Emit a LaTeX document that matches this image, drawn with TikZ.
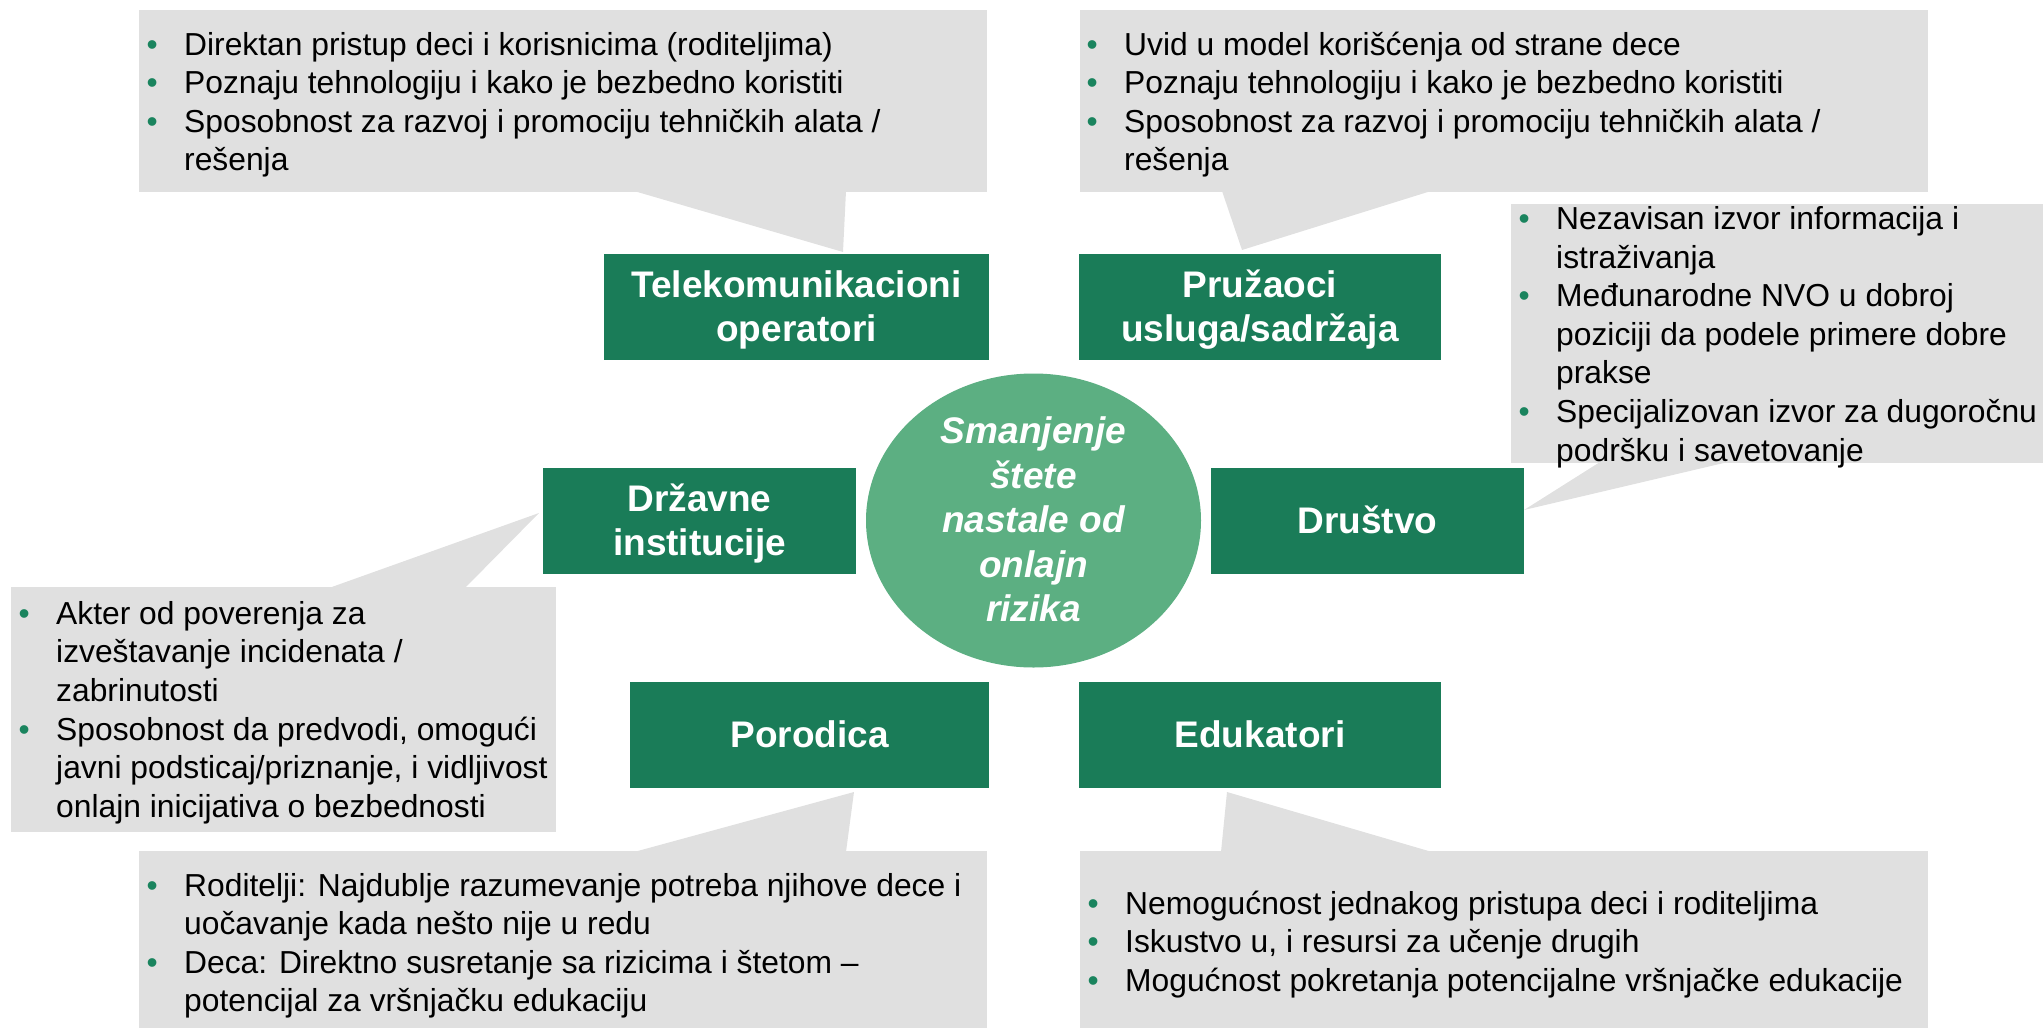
\documentclass[tikz,border=0pt]{standalone}
\usepackage{fontspec}
\setmainfont{Liberation Sans}
\usetikzlibrary{shapes.geometric,calc}
\definecolor{dkgreen}{RGB}{26,124,88}
\definecolor{ltgreen}{RGB}{92,175,130}
\definecolor{callgray}{RGB}{224,224,224}
\definecolor{bulgreen}{RGB}{26,132,94}
\newcommand{\bul}{\leavevmode\llap{\makebox[0pt][c]{\textcolor{bulgreen}{•}}\hspace{32pt}}}
\begin{document}
\begin{tikzpicture}[x=1pt,y=-1pt,
  callout/.style={fill=callgray},
  gbox/.style={rectangle, fill=dkgreen, inner sep=0pt, minimum height=106pt},
  gtext/.style={anchor=base, inner sep=0pt, text=white, font=\fontsize{37}{44.5}\selectfont\bfseries},
  ctext/.style={anchor=base west, inner sep=0pt, font=\fontsize{31.8}{38.6}\selectfont}]
\useasboundingbox (0,0) rectangle (2043,1028);

% callout shapes
\fill[callout] (139,10) rectangle (987,192);
\fill[callout] (634,191) -- (843,252) -- (846,191) -- cycle;
\fill[callout] (1080,10) rectangle (1928,192);
\fill[callout] (1222,191) -- (1242,250) -- (1431,191) -- cycle;
\fill[callout] (1511,204) rectangle (2043,463);
\fill[callout] (1600,462) -- (1524,510) -- (1728,462) -- cycle;
\fill[callout] (11,587) rectangle (556,832);
\fill[callout] (329,588) -- (539,513) -- (465,588) -- cycle;
\fill[callout] (139,851) rectangle (987,1028);
\fill[callout] (634,852) -- (854,792) -- (846,852) -- cycle;
\fill[callout] (1080,851) rectangle (1928,1028);
\fill[callout] (1221,852) -- (1227,792) -- (1432,852) -- cycle;

% green boxes
\node[gbox, minimum width=385pt] (tel) at (796.5,307) {};
\node[gbox, minimum width=362pt] (pru) at (1260,307) {};
\node[gbox, minimum width=313pt] (drz) at (699.5,521) {};
\node[gbox, minimum width=313pt] (dru) at (1367.5,521) {};
\node[gbox, minimum width=359pt] (por) at (809.5,735) {};
\node[gbox, minimum width=362pt] (edu) at (1260,735) {};
\node[ellipse, fill=ltgreen, inner sep=0pt, minimum width=335pt, minimum height=294pt] (goal) at (1033.5,520.5) {};

% box texts
\node[gtext] (tel-t) at ($(tel.center)+(0,-10)$) {\parbox[t]{420pt}{\centering Telekomunikacioni\\operatori}};
\node[gtext] (pru-t) at ($(pru.center)+(0,-10)$) {\parbox[t]{420pt}{\centering Pružaoci\\usluga/sadržaja}};
\node[gtext] (drz-t) at ($(drz.center)+(0,-10)$) {\parbox[t]{420pt}{\centering Državne\\institucije}};
\node[gtext] (dru-t) at ($(dru.center)+(0,12)$) {Društvo};
\node[gtext] (por-t) at ($(por.center)+(0,12)$) {Porodica};
\node[gtext] (edu-t) at ($(edu.center)+(0,12)$) {Edukatori};
\node[gtext, font=\fontsize{37}{44.5}\selectfont\bfseries\itshape] (goal-t) at ($(goal.center)+(0,-77)$) {\parbox[t]{320pt}{\centering Smanjenje\\štete\\nastale od\\onlajn\\rizika}};

% callout texts
\node[ctext] (tl-t) at (184,55) {\parbox[t]{900pt}{\raggedright
\bul Direktan pristup deci i korisnicima (roditeljima)\\
\bul Poznaju tehnologiju i kako je bezbedno koristiti\\
\bul Sposobnost za razvoj i promociju tehničkih alata /\\
rešenja}};
\node[ctext] (tr-t) at (1124,55) {\parbox[t]{900pt}{\raggedright
\bul Uvid u model korišćenja od strane dece\\
\bul Poznaju tehnologiju i kako je bezbedno koristiti\\
\bul Sposobnost za razvoj i promociju tehničkih alata /\\
rešenja}};
\node[ctext] (r-t) at (1556,229.5) {\parbox[t]{600pt}{\raggedright
\bul Nezavisan izvor informacija i\\
istraživanja\\
\bul Međunarodne NVO u dobroj\\
poziciji da podele primere dobre\\
prakse\\
\bul Specijalizovan izvor za dugoročnu\\
podršku i savetovanje}};
\node[ctext] (l-t) at (56,624.3) {\parbox[t]{600pt}{\raggedright
\bul Akter od poverenja za\\
izveštavanje incidenata /\\
zabrinutosti\\
\bul Sposobnost da predvodi, omogući\\
javni podsticaj/priznanje, i vidljivost\\
onlajn inicijativa o bezbednosti}};
\node[ctext] (bl-t) at (184,896) {\parbox[t]{900pt}{\raggedright
\bul Roditelji: Najdublje razumevanje potreba njihove dece i\\
uočavanje kada nešto nije u redu\\
\bul Deca: Direktno susretanje sa rizicima i štetom –\\
potencijal za vršnjačku edukaciju}};
\node[ctext] (br-t) at (1125,914) {\parbox[t]{900pt}{\raggedright
\bul Nemogućnost jednakog pristupa deci i roditeljima\\
\bul Iskustvo u, i resursi za učenje drugih\\
\bul Mogućnost pokretanja potencijalne vršnjačke edukacije}};
\end{tikzpicture}
\end{document}
